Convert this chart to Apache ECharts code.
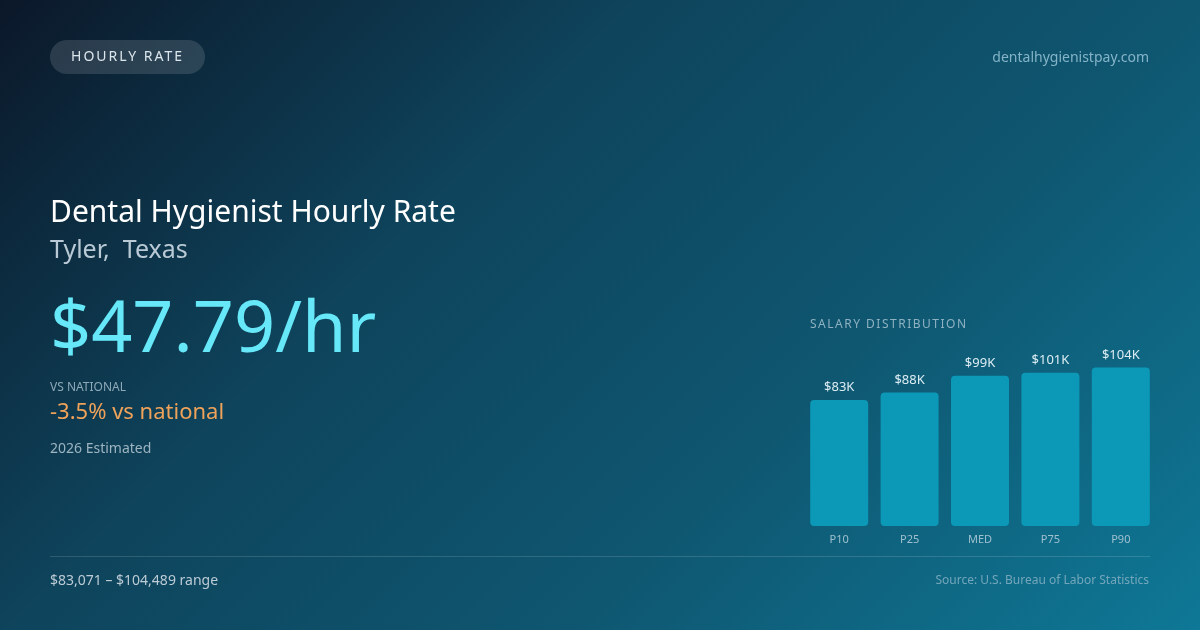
<!DOCTYPE html>
<html>
<head>
<meta charset="utf-8">
<script src="https://cdn.jsdelivr.net/npm/echarts@6/dist/echarts.min.js"></script>
<style>
  html, body { margin: 0; padding: 0; background: #0d1b2e; }
  #chart { width: 1200px; height: 630px; }
</style>
</head>
<body>
<div id="chart"></div>
<script>
// Data
var categories = ['P10', 'P25', 'MED', 'P75', 'P90'];
var salaryK = [83.071, 88, 99, 101, 104.489];
var valueLabels = ['$83K', '$88K', '$99K', '$101K', '$104K'];

// letter-spacing for a couple of uppercase captions (canvas supports ctx.letterSpacing)
var LETTER_SPACING = { 'HOURLY RATE': '2px', 'SALARY DISTRIBUTION': '1.5px' };
(function () {
  var proto = CanvasRenderingContext2D.prototype;
  var orig = proto.fillText;
  proto.fillText = function (t, x, y, m) {
    if ('letterSpacing' in this) {
      var want = LETTER_SPACING[t] || '0px';
      if (this.letterSpacing !== want) {
        this.letterSpacing = want;
        var f = this.font; this.font = f;
      }
    }
    return orig.apply(this, arguments);
  };
})();

var FONT = '"Noto Sans", "Open Sans", sans-serif';
var chart = echarts.init(document.getElementById('chart'), null, { renderer: 'canvas' });

var option = {
  backgroundColor: new echarts.graphic.LinearGradient(142.5, -142.5, 1057.5, 772.5, [
    { offset: 0, color: '#0b1829' },
    { offset: 0.35, color: '#0e445c' },
    { offset: 0.5, color: '#0e4d66' },
    { offset: 0.65, color: '#0f5670' },
    { offset: 1, color: '#0e7896' }
  ], true),
  textStyle: { fontFamily: FONT },
  grid: { left: 804, right: 44, top: 344, bottom: 104 },
  xAxis: {
    type: 'category',
    data: categories,
    axisLine: { show: false },
    axisTick: { show: false },
    axisLabel: { color: '#9fc0cf', fontSize: 11, margin: 8, fontFamily: FONT }
  },
  yAxis: {
    type: 'value',
    min: 0,
    max: 120,
    show: false,
    splitLine: { show: false }
  },
  series: [{
    type: 'bar',
    data: salaryK,
    barWidth: 58,
    itemStyle: { color: '#0b99b7', borderRadius: 4 },
    label: {
      show: true,
      position: 'top',
      distance: 6,
      color: '#dcecf2',
      fontSize: 13,
      fontFamily: FONT,
      formatter: function (p) { return valueLabels[p.dataIndex]; }
    },
    silent: true
  }],
  graphic: [
    { type: 'rect', shape: { x: 50, y: 40, width: 155, height: 34, r: 17 },
      style: { fill: 'rgba(255,255,255,0.13)' } },
    { type: 'text', x: 127.5, y: 57,
      style: { text: 'HOURLY RATE', fill: '#dbe5ec', font: '14px ' + FONT, align: 'center', verticalAlign: 'middle' } },
    { type: 'text', x: 1149, y: 58,
      style: { text: 'dentalhygienistpay.com', fill: '#84b4c8', font: '14px ' + FONT, align: 'right', verticalAlign: 'middle' } },
    { type: 'text', x: 50, y: 213,
      style: { text: 'Dental Hygienist Hourly Rate', fill: '#ffffff', font: '30px ' + FONT, align: 'left', verticalAlign: 'middle' } },
    { type: 'text', x: 50, y: 251,
      style: { text: 'Tyler,  Texas', fill: '#b9cad6', font: '25px ' + FONT, align: 'left', verticalAlign: 'middle' } },
    { type: 'text', x: 50, y: 331,
      style: { text: '$47.79/hr', fill: '#67e8f9', font: '72px ' + FONT, align: 'left', verticalAlign: 'middle' } },
    { type: 'text', x: 50, y: 388,
      style: { text: 'VS NATIONAL', fill: '#8ea9b8', font: '12px ' + FONT, align: 'left', verticalAlign: 'middle' } },
    { type: 'text', x: 50, y: 413,
      style: { text: '-3.5% vs national', fill: '#eea25a', font: '22px ' + FONT, align: 'left', verticalAlign: 'middle' } },
    { type: 'text', x: 50, y: 449,
      style: { text: '2026 Estimated', fill: '#9db4c1', font: '14px ' + FONT, align: 'left', verticalAlign: 'middle' } },
    { type: 'text', x: 810, y: 325,
      style: { text: 'SALARY DISTRIBUTION', fill: '#8fb2c2', font: '12px ' + FONT, align: 'left', verticalAlign: 'middle' } },
    { type: 'line', shape: { x1: 50, y1: 556.5, x2: 1150, y2: 556.5 },
      style: { stroke: 'rgba(255,255,255,0.14)', lineWidth: 1 } },
    { type: 'text', x: 50, y: 581,
      style: { text: '$83,071 – $104,489 range', fill: '#bccbd5', font: '14px ' + FONT, align: 'left', verticalAlign: 'middle' } },
    { type: 'text', x: 1149, y: 581,
      style: { text: 'Source: U.S. Bureau of Labor Statistics', fill: '#74a6bb', font: '12px ' + FONT, align: 'right', verticalAlign: 'middle' } }
  ]
};
chart.setOption(option);
</script>
</body>
</html>
